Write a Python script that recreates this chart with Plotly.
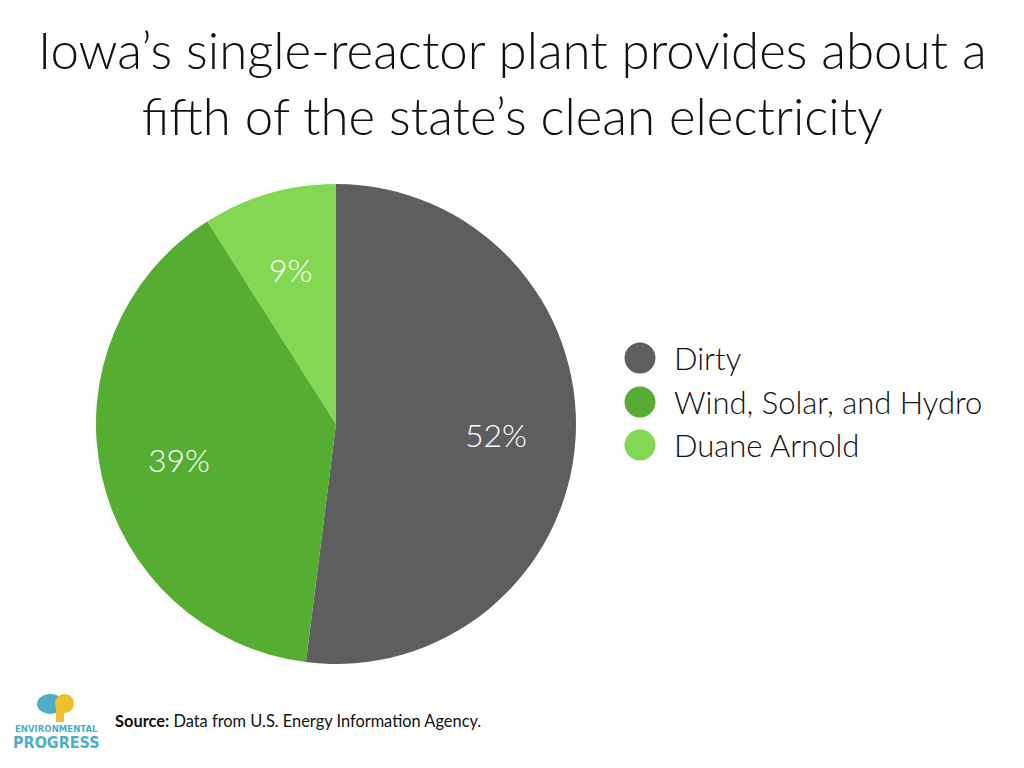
import math
import plotly.graph_objects as go

categories = ["Dirty", "Wind, Solar, and Hydro", "Duane Arnold"]
shares = [52, 39, 9]
colors = ["#5e5e5e", "#55ae32", "#83d753"]
title_text = "Iowa’s single-reactor plant provides about a<br>fifth of the state’s clean electricity"
source_text = "<b>Source:</b> Data from U.S. Energy Information Agency."

W, H = 1024, 768
FONT = "Lato, 'Open Sans', sans-serif"
CX, CY, R = 336, 424, 240  # pie centre / radius in pixels

fig = go.Figure()

fig.add_trace(go.Pie(
    labels=categories, values=shares, sort=False, direction="clockwise",
    rotation=0, marker=dict(colors=colors, line=dict(width=0)),
    textinfo="none",
    domain=dict(x=[(CX - R) / W, (CX + R) / W], y=[1 - (CY + R) / H, 1 - (CY - R) / H]),
    showlegend=False, hoverinfo="label+percent",
))

# Percentage labels at slice mid-angles
total = sum(shares)
cum = 0
for v in shares:
    mid = (cum + v / 2) / total * 2 * math.pi
    cum += v
    lx = CX + 0.67 * R * math.sin(mid)
    ly = CY - 0.67 * R * math.cos(mid)
    fig.add_annotation(text=f"{round(v / total * 100)}%", x=lx, y=ly, xref="x", yref="y",
                       showarrow=False, font=dict(size=32, color="white", family=FONT, weight=300))

# Custom legend with large circular markers
legend_y = [358, 402, 445]
for name, col, yy in zip(categories, colors, legend_y):
    fig.add_trace(go.Scatter(
        x=[640], y=[yy], mode="markers", marker=dict(size=31, color=col, line=dict(width=0)),
        showlegend=False, hoverinfo="skip", cliponaxis=False,
    ))
    fig.add_annotation(text=name, x=672, y=yy, xref="x", yref="y", xanchor="left",
                       yanchor="middle", showarrow=False,
                       font=dict(size=31, color="#111111", family=FONT, weight=300))

fig.update_layout(
    width=W, height=H, margin=dict(l=0, r=0, t=0, b=0),
    paper_bgcolor="white", plot_bgcolor="rgba(0,0,0,0)",
    xaxis=dict(range=[0, W], visible=False, fixedrange=True),
    yaxis=dict(range=[H, 0], visible=False, fixedrange=True),
    font=dict(family=FONT),
)

fig.add_annotation(
    text=title_text, x=0.5, y=1 - 17 / H, xref="paper", yref="paper",
    xanchor="center", yanchor="top", showarrow=False, align="center",
    font=dict(size=51, color="#111111", family=FONT, weight=300),
)

fig.add_annotation(
    text=source_text, x=113 / W, y=1 - 720 / H, xref="paper", yref="paper",
    xanchor="left", yanchor="middle", showarrow=False,
    font=dict(size=16.4, color="#111111", family=FONT),
)

# Logo approximation
fig.add_shape(type="circle", x0=37, x1=64, y0=694, y1=714, xref="x", yref="y",
              fillcolor="#4bafc8", line=dict(width=0))
fig.add_shape(type="rect", x0=56, x1=64, y0=704, y1=722, xref="x", yref="y",
              fillcolor="#f0bf2a", line=dict(width=0))
fig.add_shape(type="circle", x0=55, x1=74, y0=694, y1=713, xref="x", yref="y",
              fillcolor="#f0bf2a", line=dict(width=0))
fig.add_annotation(text="<b>ENVIRONMENTAL</b>", x=56, y=728, xref="x", yref="y",
                   showarrow=False, font=dict(size=9.5, color="#4bafc8", family="'DejaVu Sans Condensed', sans-serif"))
fig.add_annotation(text="<b>PROGRESS</b>", x=56, y=742, xref="x", yref="y",
                   showarrow=False, font=dict(size=16, color="#4bafc8", family="'DejaVu Sans Condensed', sans-serif"))

fig.write_html("out.html", config={"displayModeBar": False},
               post_script="document.body.style.margin='0';")
